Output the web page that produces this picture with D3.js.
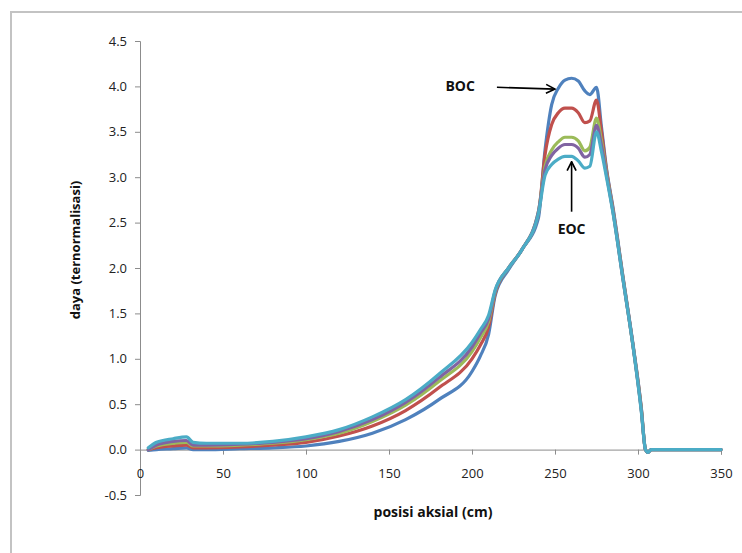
<!DOCTYPE html>
<html>
<head>
<meta charset="utf-8">
<script src="https://cdn.jsdelivr.net/npm/d3@7"></script>
<style>
  body { margin: 0; background: #fff; }
  svg { display: block; font-family: "Open Sans", sans-serif; }
</style>
</head>
<body>
<svg id="chart" width="742" height="553"></svg>
<script>
// axial positions (cm)
const posisi = [5, 10, 20, 28, 32, 40, 60, 80, 100, 120, 140, 160, 180, 200, 205, 210, 214, 222, 230, 240,
  244, 248, 252, 256, 260, 264, 268, 271, 275, 278, 281, 285, 291, 297, 302, 304.5, 306, 308, 330, 350];

const biru = [-0.01, 0.0, 0.01, 0.02, 0.0, 0.0, 0.01, 0.02, 0.04, 0.09, 0.18, 0.33, 0.55, 0.86, 1.03, 1.27, 1.7, 1.98, 2.2, 2.55,
  3.3, 3.8, 3.98, 4.07, 4.09, 4.06, 3.95, 3.91, 3.99, 3.55, 3.1, 2.66, 1.9, 1.16, 0.46, 0.0, -0.03, 0.0, 0.0, 0.0];
const merah = [0.0, 0.02, 0.04, 0.05, 0.02, 0.02, 0.03, 0.05, 0.08, 0.15, 0.26, 0.43, 0.68, 1.0, 1.15, 1.35, 1.72, 2.0, 2.2, 2.6,
  3.25, 3.58, 3.71, 3.76, 3.76, 3.71, 3.6, 3.62, 3.85, 3.5, 3.08, 2.64, 1.89, 1.15, 0.45, 0.0, -0.03, 0.0, 0.0, 0.0];
const hijau = [0.0, 0.04, 0.07, 0.08, 0.04, 0.04, 0.05, 0.07, 0.11, 0.18, 0.31, 0.49, 0.75, 1.08, 1.23, 1.41, 1.74, 2.0, 2.2, 2.62,
  3.12, 3.3, 3.39, 3.44, 3.44, 3.4, 3.29, 3.33, 3.65, 3.4, 3.05, 2.62, 1.88, 1.14, 0.44, 0.0, -0.03, 0.0, 0.0, 0.0];
const ungu = [0.0, 0.05, 0.09, 0.1, 0.05, 0.05, 0.06, 0.08, 0.12, 0.2, 0.33, 0.52, 0.79, 1.13, 1.28, 1.44, 1.75, 2.0, 2.2, 2.62,
  3.08, 3.24, 3.32, 3.36, 3.36, 3.32, 3.22, 3.25, 3.57, 3.35, 3.03, 2.61, 1.87, 1.14, 0.43, 0.0, -0.03, 0.0, 0.0, 0.0];
const sian = [0.02, 0.08, 0.12, 0.14, 0.08, 0.07, 0.07, 0.09, 0.14, 0.22, 0.36, 0.55, 0.83, 1.18, 1.32, 1.48, 1.76, 2.0, 2.2, 2.6,
  3.02, 3.14, 3.2, 3.23, 3.23, 3.18, 3.1, 3.12, 3.5, 3.28, 3.0, 2.6, 1.87, 1.14, 0.42, 0.0, -0.03, 0.0, 0.0, 0.0];

const seri = [biru, merah, hijau, ungu, sian];
const warna = ["#4F81BD", "#C0504D", "#9BBB59", "#8064A2", "#4BACC6"];

const xTicks = [0, 50, 100, 150, 200, 250, 300, 350];
const yTicks = [-0.5, 0, 0.5, 1, 1.5, 2, 2.5, 3, 3.5, 4, 4.5];

const svg = d3.select("#chart");

// outer frame of the chart area
svg.append("rect")
  .attr("x", 11).attr("y", 12)
  .attr("width", 760).attr("height", 580)
  .attr("fill", "none")
  .attr("stroke", "#c3c3c3")
  .attr("stroke-width", 2);

const x = d3.scaleLinear().domain([0, 350]).range([140, 721]);
const y = d3.scaleLinear().domain([-0.5, 4.5]).range([495, 41]);

const axisColor = "#8c8c8c";

// y axis (hyphen minus like the original)
const yAxis = svg.append("g")
  .attr("transform", "translate(" + x(0) + ",0)")
  .call(d3.axisLeft(y).tickValues(yTicks)
    .tickFormat(d => d.toFixed(1))
    .tickSize(5).tickPadding(8));
yAxis.select(".domain").attr("stroke", axisColor);
yAxis.selectAll(".tick line").attr("stroke", axisColor);
yAxis.selectAll(".tick text")
  .attr("fill", "#222")
  .style("font-size", "13px")
  .style("font-family", "Open Sans");

// x axis crosses at y = 0
const xAxis = svg.append("g")
  .attr("transform", "translate(0," + y(0) + ")")
  .call(d3.axisBottom(x).tickValues(xTicks).tickFormat(d3.format("d")).tickSize(5).tickPadding(14));
xAxis.select(".domain").attr("stroke", axisColor);
xAxis.selectAll(".tick line").attr("stroke", axisColor);
xAxis.selectAll(".tick text")
  .attr("fill", "#222")
  .style("font-size", "13px")
  .style("font-family", "Open Sans");

// lines
const line = d3.line()
  .x(d => x(d[0]))
  .y(d => y(d[1]))
  .curve(d3.curveMonotoneX);

seri.forEach((s, i) => {
  svg.append("path")
    .datum(posisi.map((p, j) => [p, s[j]]))
    .attr("fill", "none")
    .attr("stroke", warna[i])
    .attr("stroke-width", 3.2)
    .attr("stroke-linejoin", "round")
    .attr("stroke-linecap", "round")
    .attr("d", line);
});

// axis titles
svg.append("text")
  .attr("x", 433).attr("y", 517)
  .attr("text-anchor", "middle")
  .attr("font-weight", 700)
  .style("font-size", "14px")
  .attr("fill", "#111")
  .text("posisi aksial (cm)");

svg.append("text")
  .attr("transform", "translate(80,250) rotate(-90)")
  .attr("text-anchor", "middle")
  .attr("font-weight", 700)
  .style("font-size", "13px")
  .attr("fill", "#111")
  .text("daya (ternormalisasi)");

// annotations
svg.append("defs").append("marker")
  .attr("id", "panah")
  .attr("viewBox", "0 0 10 10")
  .attr("refX", 9).attr("refY", 5)
  .attr("markerWidth", 7).attr("markerHeight", 7)
  .attr("orient", "auto")
  .append("path")
  .attr("d", "M1,1 L9,5 L1,9")
  .attr("fill", "none")
  .attr("stroke", "#000")
  .attr("stroke-width", 1.5);

svg.append("text")
  .attr("x", x(184)).attr("y", y(4.0) + 5)
  .attr("font-weight", 700)
  .style("font-size", "14px")
  .attr("fill", "#111")
  .text("BOC");
svg.append("line")
  .attr("x1", x(215)).attr("y1", y(3.99))
  .attr("x2", x(250)).attr("y2", y(3.97))
  .attr("stroke", "#000").attr("stroke-width", 1.6)
  .attr("marker-end", "url(#panah)");

svg.append("text")
  .attr("x", x(260)).attr("y", y(2.43) + 5)
  .attr("text-anchor", "middle")
  .attr("font-weight", 700)
  .style("font-size", "14px")
  .attr("fill", "#111")
  .text("EOC");
svg.append("line")
  .attr("x1", x(260)).attr("y1", y(2.62))
  .attr("x2", x(260)).attr("y2", y(3.17))
  .attr("stroke", "#000").attr("stroke-width", 1.6)
  .attr("marker-end", "url(#panah)");
</script>
</body>
</html>
